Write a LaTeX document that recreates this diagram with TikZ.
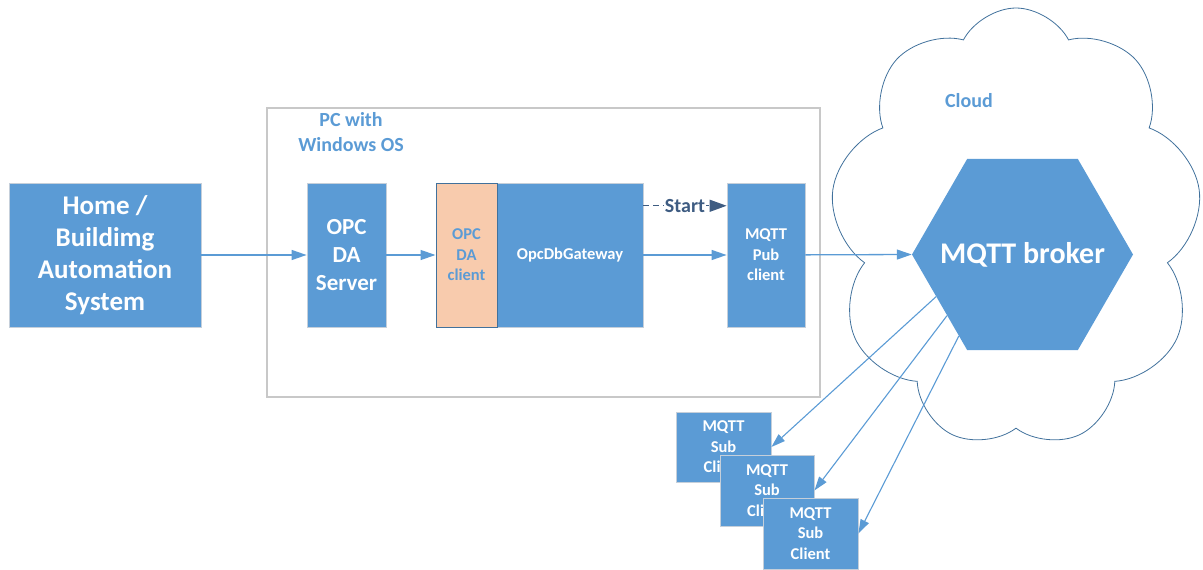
\documentclass[tikz,border=0pt]{standalone}
\usepackage{fontspec}
\setmainfont{Carlito}
\usetikzlibrary{shapes.geometric,shapes.symbols,arrows.meta,calc}
\definecolor{mblue}{HTML}{5B9BD5}
\definecolor{dblue}{HTML}{41719C}
\definecolor{peach}{HTML}{F8CBAD}
\definecolor{bgray}{HTML}{C5CFDA}
\definecolor{fgray}{HTML}{C8C8C8}
\definecolor{startc}{HTML}{3E5C82}
\tikzset{
  blk/.style={fill=mblue, draw=bgray, line width=0.8pt, text=white, align=center, inner sep=0pt},
  arr/.style={draw=mblue, line width=1.3pt, -{Triangle[length=15pt,width=10pt]}},
  subarr/.style={draw=mblue, line width=1.1pt, -{Triangle[length=14pt,width=9pt]}},
  f27/.style={font=\fontsize{27}{32}\selectfont\bfseries},
  f23/.style={font=\fontsize{23}{28}\selectfont\bfseries},
  f17/.style={font=\fontsize{16.5}{20.5}\selectfont\bfseries},
  f20/.style={font=\fontsize{20}{25}\selectfont\bfseries},
}
\begin{document}
\begin{tikzpicture}[x=1pt,y=-1pt]
\useasboundingbox (0,0) rectangle (1203,570);
% PC frame
\node[draw=fgray, line width=1.2pt, minimum width=553, minimum height=289, inner sep=0pt] (pc) at (543.5,252.5) {};
\node[f20, text=mblue, align=center] (pclabel) at (351,132) {PC with\\Windows OS};
% cloud
\node[cloud, draw=dblue, line width=0.8pt, cloud puffs=9, cloud puff arc=125, cloud ignores aspect, minimum width=372, minimum height=440, inner sep=0pt] (cloud) at (1016,228) {};
\node[f20, text=mblue] (cloudlabel) at (969,101) {Cloud};
% boxes
\node[blk, f27, minimum width=192, minimum height=144] (home) at (105,255) {Home /\\Buildimg\\Automation\\System};
\node[blk, f23, minimum width=79, minimum height=144] (server) at (346.5,255) {OPC\\DA\\Server};
\node[blk, f17, minimum width=146, minimum height=144] (gw) at (570,255) {\hspace*{0pt}OpcDbGateway};
\node[fill=peach, draw=dblue, line width=1pt, f17, text=mblue, align=center, inner sep=0pt, minimum width=61, minimum height=144] (client) at (466.5,255) {OPC\\DA\\client};
\node[blk, f17, minimum width=78, minimum height=144] (pub) at (766,255) {MQTT\\Pub\\client};
% broker
\node[regular polygon, regular polygon sides=6, fill=mblue, minimum size=221, inner sep=0pt] (broker) at (1022.5,254.5) {};
\node[font=\fontsize{30}{36}\selectfont\bfseries, text=white] (brokerlabel) at (1022.5,254.5) {MQTT broker};
% sub clients
\node[blk, f17, minimum width=95, minimum height=70] (sub1) at (723.5,447) {MQTT\\Sub\\Client};
\node[blk, f17, minimum width=94, minimum height=71] (sub2) at (767,490.5) {MQTT\\Sub\\Client};
\node[blk, f17, minimum width=95, minimum height=71] (sub3) at (810.5,533.5) {MQTT\\Sub\\Client};
% connectors
\draw[arr] (home) -- (server);
\draw[arr] (server) -- (client);
\draw[arr] (gw) -- (pub);
\draw[arr] (pub) -- (broker.west);
\coordinate (st1) at ($(gw.north east)!0.16!(gw.south east)$);
\coordinate (st2) at ($(pub.north west)!0.16!(pub.south west)$);
\draw[draw=startc, line width=1.3pt, dashed, dash pattern=on 6pt off 4pt, -{Triangle[length=17pt,width=12pt]}] (st1) -- node[fill=white, inner sep=1pt, text=startc, f20] (startlabel) {Start} (st2);
\draw[subarr] (broker.206) -- (sub1.east);
\draw[subarr] (broker.219) -- (sub2.east);
\draw[subarr] (broker.232) -- (sub3.east);
\end{tikzpicture}
\end{document}
